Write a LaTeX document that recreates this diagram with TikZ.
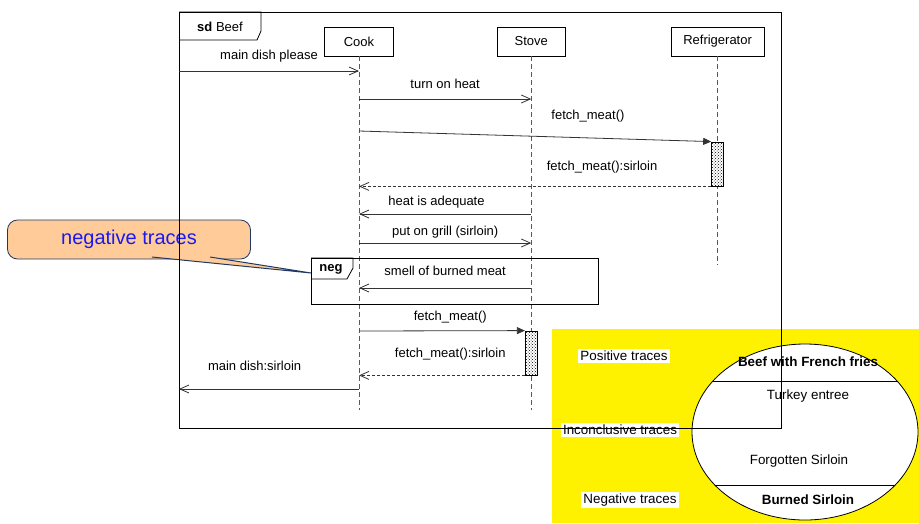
\documentclass[tikz,border=0pt]{standalone}
\usepackage{fontspec}
\setmainfont{Liberation Sans}
\usetikzlibrary{arrows.meta, positioning, shapes.geometric, patterns, backgrounds}

\definecolor{notefill}{HTML}{FFCC99}
\definecolor{noteline}{HTML}{1F3864}
\definecolor{notetext}{HTML}{1A1AF0}

\begin{document}
\begin{tikzpicture}[
    x=1pt, y=-1pt,
    font=\fontsize{13}{15}\selectfont,
    actor/.style={draw=black, line width=0.8pt, minimum height=29, inner sep=2pt},
    lifeline/.style={draw=black!65, line width=0.8pt, dash pattern=on 5pt off 3pt},
    msg/.style={draw=black!80, line width=0.8pt, -{Straight Barb[length=9pt,width=8pt]}},
    call/.style={draw=black!80, line width=0.8pt, -{Triangle[length=8pt,width=7pt]}},
    reply/.style={msg, dash pattern=on 3pt off 2pt},
    activation/.style={draw=black, line width=0.8pt, preaction={fill=white}, pattern=crosshatch dots,
        minimum width=12, minimum height=44, inner sep=0pt},
    lbl/.style={inner sep=0pt, text height=9pt, text depth=3pt},
    fragment/.style={draw=black, line width=0.8pt, anchor=north west, inner sep=0pt},
    tracelbl/.style={fill=white, inner sep=2pt, font=\fontsize{13.4}{15}\selectfont},
    tracename/.style={inner sep=0pt, font=\fontsize{13.4}{15}\selectfont}
]
\useasboundingbox (0,0) rectangle (919,523);

% sd frame
\node[fragment, minimum width=602, minimum height=416] (frame) at (179,12) {};
\draw[line width=0.8pt] (frame.north west) -- ++(82,0) -- ++(0,19) -- ++(-4,9) -- ++(-78,0);
\node (sdtag) at (220,27) {\textbf{sd} Beef};

% Lifelines
\node[actor, minimum width=69] (cook) at (359,41.5) {Cook};
\node[actor, minimum width=68, right=103pt of cook] (stove) {Stove};
\node[actor, minimum width=93, right=105pt of stove] (fridge) {Refrigerator};
\coordinate (cookend) at (cook |- 0,410);
\coordinate (stoveend) at (stove |- 0,410);
\coordinate (fridgeend) at (fridge |- 0,265);
\draw[lifeline] (cook.south) -- (cookend);
\draw[lifeline] (stove.south) -- (stoveend);
\draw[lifeline] (fridge.south) -- (fridgeend);

% Activations
\node[activation] (fridgeact) at (fridge |- 0,164) {};
\node[activation] (stoveact) at (stove |- 0,353) {};

% Messages
\coordinate (r1) at (0,71);
\coordinate (r2) at (0,99);
\coordinate (r3) at (0,131);
\coordinate (r5) at (0,214);
\coordinate (r6) at (0,243);
\coordinate (r7) at (0,288);
\coordinate (r8) at (0,331);
\coordinate (r10) at (0,389);

\draw[msg] (frame.west |- r1) -- node[lbl, above=8pt] {main dish please} (cook |- r1);
\draw[msg] (cook |- r2) -- node[lbl, above=7pt] {turn on heat} (stove |- r2);
\draw[call] (cook |- r3) -- node[lbl, pos=0.65, above=15pt] {fetch\_meat()} (fridgeact.north west);
\draw[reply] (fridgeact.south west) -- node[lbl, pos=0.31, above=13pt] {fetch\_meat():sirloin} (cook |- fridgeact.south);
\draw[msg] (stove |- r5) -- node[lbl, pos=0.55, above=5pt] {heat is adequate} (cook |- r5);
\draw[msg] (cook |- r6) -- node[lbl, above=4pt] {put on grill (sirloin)} (stove |- r6);

% neg fragment
\node[fragment, minimum width=287, minimum height=46] (negframe) at (311,258) {};
\draw[line width=0.8pt] (negframe.north west) -- ++(42,0) -- ++(0,10) -- ++(-6,11) -- ++(-36,0);
\node (negtag) at (331,269) {\textbf{neg}};
\draw[msg] (stove |- r7) -- node[lbl, above=9pt] {smell of burned meat} (cook |- r7);

\draw[call] (cook |- r8) -- node[lbl, pos=0.55, above=7pt] {fetch\_meat()} (stoveact.north west);
\draw[reply] (stoveact.south west) -- node[lbl, pos=0.45, above=15pt] {fetch\_meat():sirloin} (cook |- stoveact.south);
\draw[msg] (cook |- r10) -- node[lbl, pos=0.58, above=15pt] {main dish:sirloin} (frame.west |- r10);

\begin{scope}[on background layer]
% Trace sets
\node[fill=yellow, minimum width=367, minimum height=194, anchor=north west, inner sep=0pt] (panel) at (552,329) {};
\node[ellipse, draw=black, fill=white, line width=0.8pt, minimum width=226, minimum height=176, inner sep=0pt] (traces) at (805,432) {};
\begin{scope}
\clip (805,432) ellipse (113 and 88);
\draw[line width=0.8pt] (traces.west |- 0,381) -- (traces.east |- 0,381);
\draw[line width=0.8pt] (traces.west |- 0,485) -- (traces.east |- 0,485);
\end{scope}
\node[tracename] (beef) at (808,362) {\textbf{Beef with French fries}};
\node[tracename] (turkey) at (808,396) {Turkey entree};
\node[tracename] (forgot) at (799,461) {Forgotten Sirloin};
\node[tracename] (burned) at (808,500) {\textbf{Burned Sirloin}};
\node[tracelbl] (pos) at (624,356) {Positive traces};
\node[tracelbl] (incon) at (620,430) {Inconclusive traces};
\node[tracelbl] (neg) at (630,500) {Negative traces};

% Note
\node[draw=noteline, fill=notefill, rounded corners=10pt, line width=0.8pt, minimum width=243,
    minimum height=39, text=notetext, font=\fontsize{20}{24}\selectfont] (note) at (129,239.5) {negative traces};
\coordinate (pa) at (152,257);
\coordinate (pb) at (210,257);
\coordinate (tip) at (negframe.west |- 0,273);
\fill[notefill] (pa) -- (tip) -- (pb) -- cycle;
\draw[noteline, line width=1pt] (pa) -- (tip) -- (pb);
\end{scope}

\end{tikzpicture}
\end{document}
